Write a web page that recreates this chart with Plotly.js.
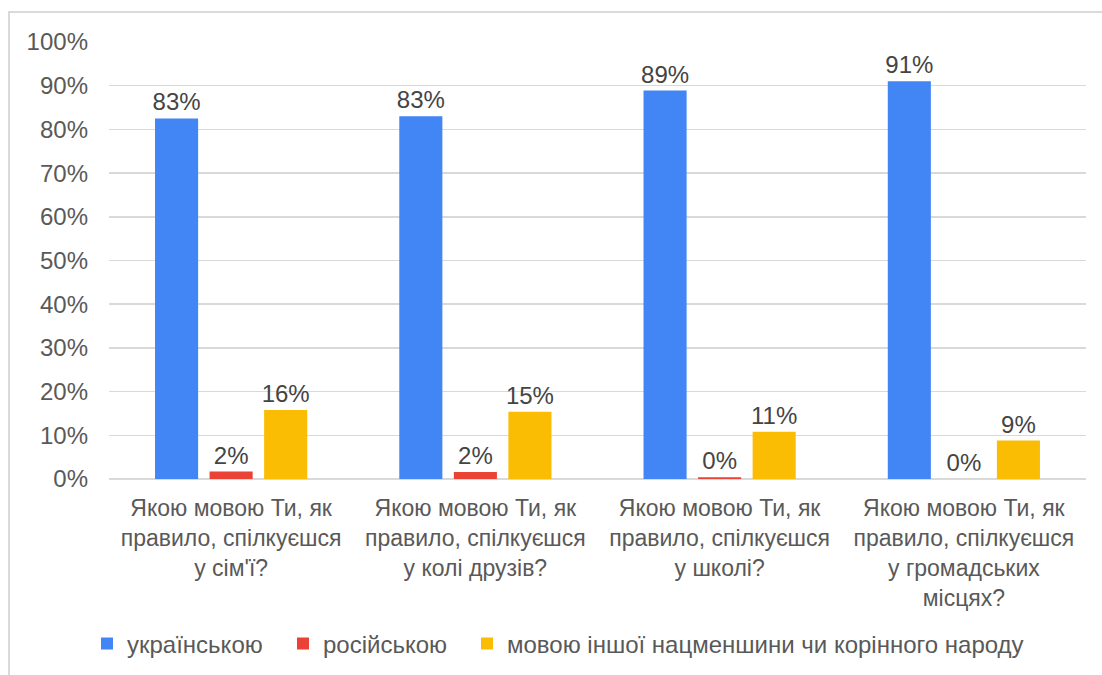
<!DOCTYPE html>
<html>
<head>
<meta charset="utf-8">
<script src="https://cdn.plot.ly/plotly-3.0.1.min.js"></script>
<style>
  html, body { margin: 0; padding: 0; background: #ffffff; }
  #wrap { position: relative; width: 1102px; height: 675px; overflow: hidden; }
  #chart { width: 1102px; height: 675px; }
  #frame { position: absolute; left: 8px; top: 11px; width: 1200px; height: 800px;
           border-left: 2px solid #dadada; border-top: 2px solid #dadada; pointer-events: none; }
</style>
</head>
<body>
<div id="wrap">
  <div id="chart"></div>
  <div id="frame"></div>
</div>
<script>
// ---- data ----
const categories = [
  "Якою мовою Ти, як<br>правило, спілкуєшся<br>у сім'ї?",
  "Якою мовою Ти, як<br>правило, спілкуєшся<br>у колі друзів?",
  "Якою мовою Ти, як<br>правило, спілкуєшся<br>у школі?",
  "Якою мовою Ти, як<br>правило, спілкуєшся<br>у громадських<br>місцях?"
];
const seriesNames = ["українською", "російською", "мовою іншої нацменшини чи корінного народу"];
const ukrainian = [82.5, 83.0, 88.9, 91.0];
const russian   = [1.7, 1.6, 0.4, 0.0];
const other     = [15.8, 15.4, 10.8, 8.8];
const yTicks = [0, 10, 20, 30, 40, 50, 60, 70, 80, 90, 100];

const colors = ["#4285F4", "#EA4335", "#FBBC04"];
const FONT = "Liberation Sans, Arial, sans-serif";
const values = [ukrainian, russian, other];
const legendIds = ["legend", "legend2", "legend3"];

const traces = values.map((v, i) => ({
  type: "bar",
  name: seriesNames[i],
  x: categories,
  y: v,
  marker: { color: colors[i] },
  texttemplate: "%{y:.0f}%",
  textposition: "outside",
  constraintext: "none",
  textfont: { family: FONT, size: 24, color: "#444444" },
  cliponaxis: false,
  legend: legendIds[i],
  hoverinfo: "skip"
}));

const legendBase = {
  orientation: "h", xref: "container", yref: "container",
  xanchor: "left", yanchor: "middle", y: 0.046,
  font: { family: FONT, size: 24, color: "#595959" },
  bgcolor: "rgba(0,0,0,0)", borderwidth: 0
};

const layout = {
  width: 1102, height: 675,
  margin: { l: 109, r: 16, t: 42, b: 196 },
  paper_bgcolor: "#ffffff", plot_bgcolor: "#ffffff",
  barmode: "group", bargap: 0.33, bargroupgap: 0.21,
  font: { family: FONT, size: 24, color: "#595959" },
  showlegend: true,
  legend:  Object.assign({}, legendBase, { x: 87 / 1102 }),
  legend2: Object.assign({}, legendBase, { x: 283 / 1102 }),
  legend3: Object.assign({}, legendBase, { x: 467 / 1102 }),
  xaxis: {
    tickfont: { family: FONT, size: 23, color: "#595959" },
    showgrid: false, showline: false, ticks: "",
    ticklabelstandoff: 13, automargin: false
  },
  yaxis: {
    range: [0, 100], tickvals: yTicks, ticktext: yTicks.map(t => t + "%"),
    tickfont: { family: FONT, size: 24, color: "#595959" },
    gridcolor: "#d9d9d9", gridwidth: 1.5,
    zeroline: true, zerolinecolor: "#d9d9d9", zerolinewidth: 2,
    showline: false, ticks: "", ticklabelstandoff: 20, automargin: false
  }
};

Plotly.newPlot("chart", traces, layout, { staticPlot: true, displayModeBar: false });
</script>
</body>
</html>
